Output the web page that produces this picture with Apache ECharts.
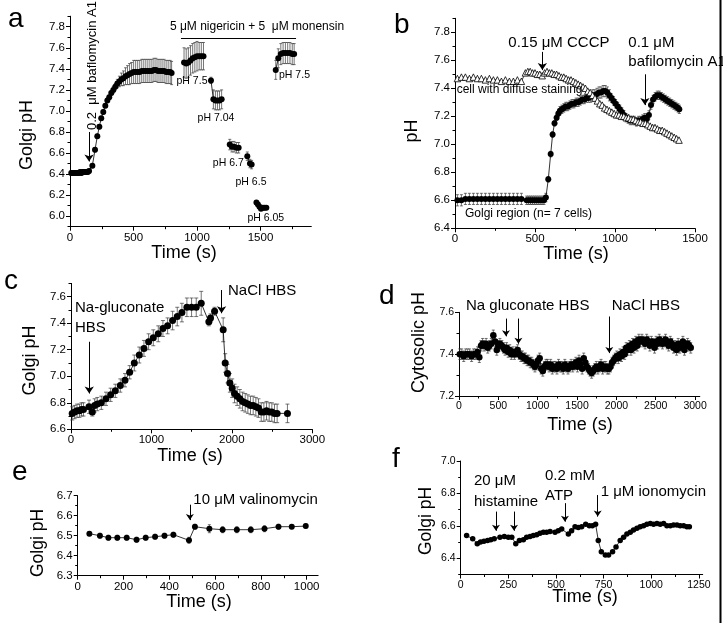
<!DOCTYPE html>
<html><head><meta charset="utf-8">
<script src="https://cdn.jsdelivr.net/npm/echarts@6/dist/echarts.min.js"></script>
<style>html,body{margin:0;padding:0;background:#fff}#c{width:723px;height:623px}</style>
</head><body><div id="c"></div>
<script>
const FONT = '"Liberation Sans", Arial, Helvetica, sans-serif';

// ---------- Panel a ----------
const aXTicks = [0, 500, 1000, 1500];
const aYTicks = [6.0, 6.2, 6.4, 6.6, 6.8, 7.0, 7.2, 7.4, 7.6, 7.8];
const aRise = [
 [10,6.41,0.02],[20,6.41,0.02],[30,6.41,0.02],[40,6.41,0.02],[50,6.41,0.02],[60,6.41,0.02],[70,6.41,0.02],[80,6.42,0.02],
 [90,6.41,0.02],[100,6.42,0.02],[110,6.42,0.02],[120,6.42,0.02],[130,6.42,0.02],[140,6.42,0.02],[150,6.43,0.02],
 [176,6.48,0.02],[197,6.63,0.02],[215,6.76,0.02],[231,6.85,0.02],[246,6.93,0.02],[262,6.99,0.02],[278,7.05,0.02],
 [294,7.10,0.02],[309,7.13,0.02],[325,7.17,0.02],[341,7.20,0.03],[357,7.23,0.03],[373,7.26,0.04],[389,7.28,0.05],
 [405,7.30,0.06],[421,7.31,0.07],[437,7.33,0.08],[453,7.34,0.09],[469,7.35,0.1],[485,7.36,0.1],[501,7.37,0.11],
 [517,7.37,0.11],[533,7.37,0.11],[549,7.37,0.11],[565,7.38,0.11],[581,7.38,0.11],[597,7.38,0.11],[613,7.38,0.11],
 [629,7.38,0.11],[645,7.38,0.11],[661,7.39,0.11],[677,7.39,0.11],[693,7.38,0.11],[709,7.38,0.11],[725,7.38,0.11],
 [741,7.38,0.11],[757,7.37,0.11],[773,7.37,0.11],[789,7.37,0.11],[800,7.36,0.11]
];
const aSeg75 = [[898,7.46,0.14],[915,7.45,0.14],[932,7.46,0.14],[949,7.48,0.14],[966,7.50,0.14],[983,7.51,0.14],[1000,7.52,0.14],[1017,7.52,0.13],[1034,7.52,0.13],[1051,7.52,0.13]];
const aSeg704 = [[1110,7.29,0.03],[1129,7.11,0.09],[1145,7.10,0.09],[1161,7.10,0.09],[1177,7.10,0.09],[1194,7.11,0.09]];
const aSeg67 = [[1258,6.68,0.05],[1275,6.66,0.05],[1292,6.66,0.05],[1310,6.65,0.05],[1328,6.65,0.05]];
const aSeg65 = [[1396,6.57,0.04],[1417,6.50,0.04],[1430,6.49,0.04]];
const aSeg605 = [[1468,6.13,0.01],[1480,6.11,0.01],[1492,6.09,0.01],[1504,6.07,0.01],[1518,6.08,0.01],[1532,6.08,0.01],[1546,6.08,0.01]];
const aSeg75b = [[1620,7.39,0.09],[1640,7.50,0.09],[1660,7.54,0.1],[1678,7.55,0.1],[1696,7.55,0.1],[1714,7.55,0.1],[1732,7.55,0.1],[1750,7.54,0.1],[1765,7.54,0.1]];

// ---------- Panel b ----------
const bXTicks = [0, 500, 1000, 1500];
const bYTicks = [6.4, 6.6, 6.8, 7.0, 7.2, 7.4, 7.6, 7.8];
const bGolgi = [
 [15,6.60,0.04],[40,6.60,0.04],[65,6.61,0.04],[90,6.61,0.04],[115,6.61,0.04],[140,6.61,0.04],[165,6.61,0.04],[190,6.61,0.04],
 [215,6.61,0.04],[240,6.61,0.04],[265,6.61,0.04],[290,6.61,0.04],[315,6.61,0.04],[340,6.61,0.04],[365,6.61,0.04],[390,6.61,0.04],[415,6.61,0.04],
 [448,6.60,0.03],[460,6.60,0.03],[472,6.60,0.03],[484,6.60,0.03],[496,6.60,0.03],[508,6.60,0.03],[520,6.60,0.03],[532,6.60,0.03],
 [544,6.60,0.03],[556,6.60,0.03],[568,6.62,0.03],[583,6.75,0.02],[598,6.93,0.02],[610,7.07,0.02],[622,7.15,0.02],[635,7.19,0.02],
 [646,7.22,0.02],[656,7.24,0.03],[668,7.25,0.03],[680,7.26,0.03],[692,7.27,0.03],[705,7.27,0.03],[718,7.28,0.03],[731,7.29,0.03],
 [744,7.29,0.03],[757,7.30,0.03],[770,7.30,0.03],[783,7.31,0.03],[796,7.32,0.03],[809,7.32,0.03],[822,7.33,0.03],[835,7.33,0.03],
 [848,7.34,0.04],[861,7.35,0.04],[874,7.35,0.04],[887,7.36,0.04],[900,7.37,0.04],[913,7.37,0.04],[926,7.38,0.04],[939,7.38,0.04],
 [952,7.37,0.04],[965,7.35,0.04],[978,7.33,0.03],[991,7.31,0.03],[1004,7.29,0.03],[1017,7.27,0.03],[1030,7.25,0.03],[1043,7.23,0.03],
 [1056,7.21,0.03],[1069,7.19,0.03],[1082,7.18,0.03],[1095,7.17,0.03],[1108,7.17,0.03],[1121,7.17,0.03],[1134,7.16,0.03],[1147,7.17,0.03],
 [1160,7.17,0.03],[1173,7.18,0.03],[1186,7.19,0.03],[1199,7.18,0.03],[1212,7.21,0.03],[1225,7.28,0.03],[1238,7.32,0.03],[1251,7.34,0.03],
 [1264,7.35,0.03],[1277,7.35,0.03],[1290,7.34,0.03],[1303,7.33,0.03],[1316,7.32,0.03],[1329,7.31,0.03],[1342,7.30,0.03],[1355,7.29,0.03],
 [1368,7.28,0.03],[1381,7.27,0.03],[1394,7.26,0.03],[1402,7.25,0.03]
];
const bDiffuse = [
 [15,7.47],[40,7.48],[65,7.48],[90,7.47],[115,7.48],[140,7.47],[165,7.47],[190,7.46],[215,7.47],[240,7.46],[265,7.46],[290,7.45],
 [315,7.46],[340,7.45],[365,7.45],[390,7.46],[415,7.45],[440,7.51],[455,7.52],[470,7.52],[485,7.51],[500,7.51],[515,7.50],[530,7.50],
 [545,7.49],[560,7.51],[575,7.52],[590,7.51],[605,7.51],[620,7.50],[635,7.50],[650,7.49],[665,7.48],[680,7.48],[695,7.47],[710,7.46],
 [725,7.46],[740,7.45],[755,7.44],[770,7.43],[785,7.42],[800,7.41],[815,7.40],[830,7.38],[845,7.37],[860,7.35],[875,7.33],[890,7.31],
 [905,7.29],[920,7.28],[935,7.26],[950,7.25],[965,7.24],[980,7.23],[995,7.22],[1010,7.21],[1025,7.21],[1040,7.20],[1055,7.20],
 [1070,7.19],[1085,7.19],[1100,7.18],[1115,7.18],[1130,7.17],[1145,7.16],[1160,7.16],[1175,7.15],[1190,7.15],[1205,7.14],[1220,7.13],
 [1235,7.12],[1250,7.12],[1265,7.11],[1280,7.10],[1295,7.10],[1310,7.09],[1325,7.08],[1340,7.07],[1355,7.06],[1370,7.05],[1385,7.04],[1400,7.03]
];

// ---------- Panel c ----------
const cXTicks = [0, 1000, 2000, 3000];
const cYTicks = [6.6, 6.8, 7.0, 7.2, 7.4, 7.6];
const cGolgi = [
 [15,6.72,0.05],[45,6.73,0.05],[75,6.74,0.05],[105,6.74,0.05],[130,6.75,0.05],[155,6.75,0.05],
 [224,6.77,0.05],[265,6.73,0.03],[294,6.78,0.05],[327,6.79,0.05],[377,6.80,0.05],[435,6.83,0.05],[493,6.86,0.05],[551,6.89,0.05],
 [613,6.93,0.05],[671,6.97,0.05],[729,7.03,0.05],[787,7.10,0.06],[849,7.16,0.06],[907,7.21,0.06],[965,7.26,0.06],[1023,7.29,0.06],
 [1085,7.32,0.06],[1143,7.36,0.06],[1201,7.38,0.06],[1263,7.42,0.07],[1321,7.45,0.07],[1379,7.48,0.07],[1441,7.52,0.07],[1499,7.52,0.07],
 [1557,7.52,0.07],[1619,7.55,0.09],[1714,7.41,0.03],[1735,7.44,0.03],[1785,7.49,0.03],
 [1892,7.35,0.09],[1917,7.10,0.07],[1946,7.02,0.07],[1975,6.95,0.07],[2004,6.91,0.07],[2033,6.87,0.07],[2066,6.85,0.07],[2099,6.83,0.07],
 [2133,6.81,0.07],[2166,6.80,0.07],[2199,6.79,0.07],[2232,6.78,0.07],[2265,6.78,0.07],[2298,6.77,0.07],[2331,6.76,0.07],[2365,6.73,0.07],
 [2398,6.73,0.07],[2431,6.74,0.07],[2464,6.73,0.07],[2497,6.73,0.07],[2530,6.72,0.07],[2563,6.72,0.07],[2691,6.72,0.07]
];

// ---------- Panel d ----------
const dXTicks = [0, 500, 1000, 1500, 2000, 2500, 3000];
const dYTicks = [7.2, 7.4, 7.6];
const dCyto = [
 [10,7.40],[35,7.40],[60,7.39],[85,7.40],[110,7.40],[135,7.40],[160,7.39],[185,7.40],[210,7.40],[235,7.41],[258,7.385],[280,7.44],
 [300,7.45],[320,7.44],[345,7.45],[365,7.43],[385,7.44],[410,7.45],[436,7.49],[460,7.46],[480,7.42],[500,7.44],[520,7.45],[545,7.44],
 [565,7.43],[585,7.42],[605,7.43],[625,7.41],[645,7.42],[665,7.40],[685,7.41],[705,7.40],[725,7.41],[745,7.42],[765,7.40],[785,7.39],
 [805,7.39],[825,7.38],[845,7.38],[865,7.37],[885,7.37],[905,7.36],[925,7.36],[945,7.35],[965,7.34],[985,7.35],[1005,7.37],[1025,7.38],
 [1045,7.33],[1065,7.32],[1085,7.34],[1105,7.35],[1125,7.35],[1145,7.34],[1165,7.35],[1185,7.33],[1205,7.34],[1225,7.34],[1245,7.33],
 [1265,7.35],[1285,7.34],[1305,7.34],[1325,7.33],[1345,7.35],[1365,7.34],[1385,7.33],[1405,7.34],[1425,7.35],[1445,7.34],[1465,7.35],
 [1485,7.36],[1505,7.34],[1525,7.37],[1545,7.35],[1565,7.33],[1585,7.38],[1605,7.36],[1625,7.34],[1645,7.33],[1665,7.32],[1685,7.31],
 [1705,7.32],[1725,7.33],[1745,7.34],[1765,7.33],[1785,7.34],[1805,7.35],[1825,7.33],[1845,7.34],[1865,7.34],[1885,7.33],[1905,7.33],
 [1925,7.34],[1945,7.36],[1965,7.37],[1985,7.38],[2005,7.39],[2025,7.38],[2045,7.40],[2065,7.39],[2085,7.41],[2105,7.40],[2125,7.43],
 [2145,7.42],[2165,7.44],[2185,7.42],[2205,7.45],[2225,7.43],[2245,7.46],[2265,7.44],[2285,7.47],[2305,7.46],[2325,7.47],[2345,7.46],
 [2365,7.45],[2385,7.47],[2405,7.46],[2425,7.44],[2445,7.46],[2465,7.45],[2485,7.43],[2505,7.46],[2525,7.45],[2545,7.47],[2565,7.46],
 [2585,7.45],[2605,7.46],[2625,7.47],[2645,7.45],[2665,7.44],[2685,7.46],[2705,7.45],[2725,7.43],[2745,7.44],[2765,7.42],[2785,7.45],
 [2805,7.43],[2825,7.44],[2845,7.46],[2865,7.42],[2885,7.44],[2905,7.45],[2925,7.44],[2945,7.43]
];
const dErr = 0.025;

// ---------- Panel e ----------
const eXTicks = [0, 200, 400, 600, 800, 1000];
const eYTicks = [6.3, 6.4, 6.5, 6.6, 6.7];
const eGolgi = [
 [51,6.51,0.01],[97,6.50,0.012],[134,6.49,0.012],[173,6.49,0.012],[214,6.49,0.012],[257,6.48,0.012],[297,6.49,0.012],
 [338,6.495,0.012],[379,6.50,0.012],[418,6.505,0.012],[486,6.477,0.015],[512,6.545,0.012],[575,6.535,0.02],[633,6.53,0.015],
 [695,6.53,0.015],[756,6.53,0.015],[816,6.535,0.015],[877,6.545,0.012],[935,6.545,0.01],[996,6.548,0.01]
];

// ---------- Panel f ----------
const fXTicks = [0, 250, 500, 750, 1000, 1250];
const fYTicks = [6.4, 6.6, 6.8, 7.0];
const fGolgi = [
 [31,6.54],[63,6.52],[87,6.49],[104,6.50],[122,6.505],[141,6.51],[158,6.515],[176,6.52],[206,6.53],[229,6.535],[250,6.53],
 [268,6.53],[289,6.49],[308,6.51],[329,6.515],[346,6.53],[364,6.535],[381,6.54],[399,6.545],[416,6.555],[434,6.56],[451,6.56],
 [469,6.565],[495,6.56],[512,6.57],[530,6.58],[565,6.55],[582,6.57],[600,6.595],[617,6.59],[635,6.595],[656,6.61],[675,6.60],
 [691,6.60],[708,6.61],[722,6.51],[738,6.44],[759,6.42],[776,6.42],[797,6.44],[815,6.47],[837,6.51],[855,6.53],[872,6.55],
 [890,6.56],[907,6.575],[925,6.585],[942,6.595],[960,6.60],[977,6.61],[995,6.615],[1012,6.61],[1030,6.615],[1047,6.61],
 [1065,6.615],[1082,6.60],[1100,6.60],[1117,6.605],[1135,6.605],[1152,6.60],[1170,6.60],[1187,6.595],[1200,6.595]
];

// ---------- layout ----------
const panels = [
 {rect:[70,16.2,241.3,210.5], x:[0,1900], y:[5.9,7.9], xt:aXTicks, yt:aYTicks, fs:11.5},
 {rect:[455,18.3,240,210], x:[0,1500], y:[6.4,7.9], xt:bXTicks, yt:bYTicks, fs:11.5},
 {rect:[71,283.4,241.3,145.9], x:[0,3000], y:[6.6,7.7], xt:cXTicks, yt:cYTicks, fs:11.5},
 {rect:[459,312.3,240.8,83.7], x:[0,3060], y:[7.2,7.6], xt:dXTicks, yt:dYTicks, fs:10.5},
 {rect:[77.7,495.7,240.4,80], x:[0,1050], y:[6.3,6.7], xt:eXTicks, yt:eYTicks, fs:11.5},
 {rect:[460.7,461,242,113.5], x:[0,1270], y:[6.3,7.0], xt:fXTicks, yt:fYTicks, fs:10.5}
];

function minors(ticks, lo, hi) {
  const step = ticks[1] - ticks[0];
  const out = [];
  const cand = [ticks[0] - step / 2].concat(ticks.map(t => t + step / 2));
  cand.forEach(v => { v = Math.round(v * 1e6) / 1e6; if (v >= lo - 1e-9 && v <= hi + 1e-9) out.push(v); });
  return out;
}

const grids = [], xAxes = [], yAxes = [];
panels.forEach((p) => {
  const [l, t, w, h] = p.rect;
  const gi = grids.length;
  grids.push({left:l, top:t, width:w, height:h, containLabel:false});
  grids.push({left:l, top:t, width:w, height:h, containLabel:false});
  const lab = (fmt) => ({color:'#000', fontSize:p.fs, fontFamily:FONT, margin:5, formatter:fmt});
  xAxes.push({type:'value', gridIndex:gi, min:p.x[0], max:p.x[1],
    axisLine:{show:true, onZero:false, lineStyle:{color:'#000', width:1}},
    axisTick:{show:true, customValues:p.xt, length:4, lineStyle:{color:'#000', width:1}},
    axisLabel:Object.assign({customValues:p.xt}, lab(v => String(Math.round(v)))),
    splitLine:{show:false}});
  xAxes.push({type:'value', gridIndex:gi+1, min:p.x[0], max:p.x[1],
    axisLine:{show:false}, axisLabel:{show:false}, splitLine:{show:false},
    axisTick:{show:true, customValues:minors(p.xt, p.x[0], p.x[1]), length:2.5, lineStyle:{color:'#000', width:1}}});
  yAxes.push({type:'value', gridIndex:gi, min:p.y[0], max:p.y[1],
    axisLine:{show:true, onZero:false, lineStyle:{color:'#000', width:1}},
    axisTick:{show:true, customValues:p.yt, length:4, lineStyle:{color:'#000', width:1}},
    axisLabel:Object.assign({customValues:p.yt}, lab(v => v.toFixed(1))),
    splitLine:{show:false}});
  yAxes.push({type:'value', gridIndex:gi+1, min:p.y[0], max:p.y[1],
    axisLine:{show:false}, axisLabel:{show:false}, splitLine:{show:false},
    axisTick:{show:true, customValues:minors(p.yt, p.y[0], p.y[1]), length:2.5, lineStyle:{color:'#000', width:1}}});
});

function lineSeries(pi, data, size, extra) {
  const idx = pi * 2;
  return Object.assign({type:'line', xAxisIndex:idx, yAxisIndex:idx, data:data.map(d => [d[0], d[1]]),
    symbol:'circle', symbolSize:size, showSymbol:true, showAllSymbol:true,
    itemStyle:{color:'#000'}, lineStyle:{color:'#000', width:0.8}, silent:true, animation:false, z:3}, extra || {});
}
function errSeries(pi, data, cap, fixedErr) {
  const idx = pi * 2;
  return {type:'custom', xAxisIndex:idx, yAxisIndex:idx, data:data, encode:{x:0, y:1}, silent:true, animation:false, z:2,
    renderItem:(params, api) => {
      const x = api.value(0), y = api.value(1);
      const e = fixedErr != null ? fixedErr : api.value(2);
      const p1 = api.coord([x, y + e]), p2 = api.coord([x, y - e]);
      const s = {stroke:'#3a3a3a', lineWidth:0.7};
      return {type:'group', children:[
        {type:'line', shape:{x1:p1[0], y1:p1[1], x2:p2[0], y2:p2[1]}, style:s},
        {type:'line', shape:{x1:p1[0]-cap, y1:p1[1], x2:p1[0]+cap, y2:p1[1]}, style:s},
        {type:'line', shape:{x1:p2[0]-cap, y1:p2[1], x2:p2[0]+cap, y2:p2[1]}, style:s}
      ]};
    }};
}
function arrows(list) {
  return {silent:true, animation:false, symbolSize:[6, 8], label:{show:false}, emphasis:{disabled:true},
    lineStyle:{color:'#000', width:1, type:'solid'},
    data: list.map(a => [{coord:[a[0], a[1]], symbol:a[3] || 'none'}, {coord:[a[2] != null && a.length > 4 ? a[4] : a[0], a[2]], symbol:a[3] ? 'none' : 'arrow'}])};
}

const series = [];
// a
series.push(errSeries(0, aRise, 1.5));
series.push(lineSeries(0, aRise, 6, {markLine:{silent:true, animation:false, symbol:['none','arrow'], symbolSize:7, label:{show:false},
  lineStyle:{color:'#000', width:1, type:'solid'},
  data:[[{coord:[150,6.80]},{coord:[150,6.52]}], [{coord:[874,7.69], symbol:'none'},{coord:[1780,7.69], symbol:'none'}]]}}));
[aSeg75, aSeg704, aSeg67, aSeg65, aSeg605, aSeg75b].forEach(s => { series.push(errSeries(0, s, 1.5)); series.push(lineSeries(0, s, 6)); });
// b
series.push(errSeries(1, bGolgi, 1.5));
series.push(lineSeries(1, bGolgi, 6, {markLine:{silent:true, animation:false, symbol:['none','arrow'], symbolSize:7, label:{show:false},
  lineStyle:{color:'#000', width:1, type:'solid'},
  data:[[{coord:[546,7.66]},{coord:[546,7.53]}], [{coord:[1187,7.50]},{coord:[1187,7.28]}]]}}));
series.push(lineSeries(1, bDiffuse, 6.5, {symbol:'triangle', itemStyle:{color:'#fff', borderColor:'#000', borderWidth:0.8}, z:4}));
// c
series.push(errSeries(2, cGolgi, 2));
series.push(lineSeries(2, cGolgi, 7, {markLine:{silent:true, animation:false, symbol:['none','arrow'], symbolSize:7, label:{show:false},
  lineStyle:{color:'#000', width:1, type:'solid'},
  data:[[{coord:[227,7.26]},{coord:[227,6.87]}], [{coord:[1872,7.65]},{coord:[1872,7.475]}]]}}));
// d
series.push(errSeries(3, dCyto, 1.5, dErr));
series.push(lineSeries(3, dCyto, 6.5, {markLine:{silent:true, animation:false, symbol:['none','arrow'], symbolSize:6, label:{show:false},
  lineStyle:{color:'#000', width:1, type:'solid'},
  data:[[{coord:[597,7.57]},{coord:[597,7.485]}], [{coord:[755,7.57]},{coord:[755,7.45]}], [{coord:[1910,7.58]},{coord:[1910,7.405]}]]}}));
// e
series.push(errSeries(4, eGolgi, 1.5));
series.push(lineSeries(4, eGolgi, 6, {markLine:{silent:true, animation:false, symbol:['none','arrow'], symbolSize:6, label:{show:false},
  lineStyle:{color:'#000', width:1, type:'solid'},
  data:[[{coord:[490,6.655]},{coord:[490,6.578]}]]}}));
// f
series.push(lineSeries(5, fGolgi, 5.5, {markLine:{silent:true, animation:false, symbol:['none','arrow'], symbolSize:6, label:{show:false},
  lineStyle:{color:'#000', width:1, type:'solid'},
  data:[[{coord:[185,6.688]},{coord:[185,6.57]}], [{coord:[280,6.688]},{coord:[280,6.57]}], [{coord:[547,6.74]},{coord:[547,6.626]}], [{coord:[719,6.79]},{coord:[719,6.657]}]]}}));

function txt(x, y, s, size, align, rot) {
  return {type:'text', x:x, y:y, rotation:rot || 0, silent:true, z:10,
    style:{text:s, fontSize:size, fontFamily:FONT, fill:'#000', align:align || 'left', textAlign:align || 'left', verticalAlign:'middle', textVerticalAlign:'middle'}};
}
const R = Math.PI / 2;
const graphics = [
  // panel letters
  txt(8, 19, 'a', 28), txt(394, 25, 'b', 28), txt(4, 281, 'c', 28), txt(379, 296, 'd', 28), txt(12, 472, 'e', 28), txt(392, 459, 'f', 28),
  // axis titles
  txt(27, 135, 'Golgi pH', 18, 'center', R), txt(184, 253, 'Time (s)', 18, 'center'),
  txt(411.7, 131, 'pH', 18, 'center', R), txt(576, 254.5, 'Time (s)', 18, 'center'),
  txt(29.6, 360.5, 'Golgi pH', 18, 'center', R), txt(190, 456, 'Time (s)', 18, 'center'),
  txt(418.7, 342.5, 'Cytosolic pH', 18, 'center', R), txt(580, 425, 'Time (s)', 18, 'center'),
  txt(37.7, 543, 'Golgi pH', 17.5, 'center', R), txt(199, 602.5, 'Time (s)', 18, 'center'),
  txt(426, 521, 'Golgi pH', 17.5, 'center', R), txt(585, 597, 'Time (s)', 18, 'center'),
  // panel a annotations
  txt(92, 130, '0.2  \u03bcM baflomycin A1', 13, 'left', R),
  txt(257, 27, '5 \u03bcM nigericin + 5  \u03bcM monensin', 12, 'center'),
  txt(192, 81, 'pH 7.5', 10.5, 'center'), txt(216, 118.3, 'pH 7.04', 10.5, 'center'),
  txt(228.3, 163.3, 'pH 6.7', 10.5, 'center'), txt(251, 181.7, 'pH 6.5', 10.5, 'center'),
  txt(265.8, 218.3, 'pH 6.05', 10.5, 'center'), txt(294.5, 75, 'pH 7.5', 10.5, 'center'),
  // panel b annotations
  txt(508.3, 43.3, '0.15 \u03bcM CCCP', 15), txt(628.3, 43.3, '0.1 \u03bcM', 15), txt(628.3, 61.7, 'bafilomycin A1', 15),
  txt(456.7, 90, 'cell with diffuse staining', 12), txt(465, 213.3, 'Golgi region (n= 7 cells)', 12),
  // panel c annotations
  txt(75, 308.3, 'Na-gluconate', 15), txt(75, 327.7, 'HBS', 15), txt(228, 291, 'NaCl HBS', 15),
  // panel d annotations
  txt(466, 305.7, 'Na gluconate HBS', 15), txt(611.7, 305.7, 'NaCl HBS', 15),
  // panel e
  txt(193.3, 500, '10 \u03bcM valinomycin', 15),
  // panel f
  txt(474, 481, '20 \u03bcM', 15), txt(474, 501.7, 'histamine', 15), txt(545, 476, '0.2 mM', 15), txt(545, 496, 'ATP', 15),
  txt(600.7, 491.7, '1 \u03bcM ionomycin', 15),
  // right edge border line
  {type:'line', silent:true, shape:{x1:720.5, y1:0, x2:720.5, y2:623}, style:{stroke:'#000', lineWidth:2}}
];

const chart = echarts.init(document.getElementById('c'), null, {renderer:'canvas'});
chart.setOption({
  animation:false,
  backgroundColor:'#fff',
  textStyle:{fontFamily:FONT},
  grid:grids, xAxis:xAxes, yAxis:yAxes, series:series, graphic:graphics
});
</script></body></html>
